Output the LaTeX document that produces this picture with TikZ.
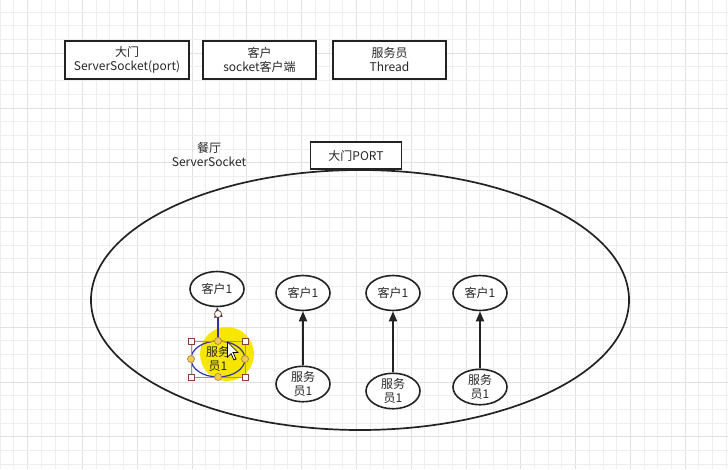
\documentclass[tikz,border=0pt]{standalone}
\usepackage{fontspec}
\setmainfont{Noto Sans CJK SC}
\usetikzlibrary{shapes.geometric,arrows.meta}
\definecolor{gridminor}{RGB}{238,238,238}
\definecolor{gridmajor}{RGB}{225,225,225}
\definecolor{ink}{RGB}{35,35,35}
\definecolor{txt}{RGB}{40,40,40}
\definecolor{hiyellow}{RGB}{246,230,0}
\definecolor{selblue}{RGB}{50,50,170}
\definecolor{handlered}{RGB}{140,60,60}
\definecolor{handleor}{RGB}{245,200,80}
\begin{document}
\begin{tikzpicture}[x=1pt,y=-1pt,
  lbl/.style={font=\fontsize{12}{14}\selectfont, text=txt, align=center, inner sep=0pt},
  legendbox/.style={lbl, draw=ink, line width=1.6pt, minimum height=38pt, fill=white},
  roombox/.style={lbl, draw=ink, line width=1.6pt, minimum width=91pt, minimum height=27pt, fill=white},
  room/.style={draw=ink, line width=1.7pt, ellipse, minimum width=538pt, minimum height=260pt, inner sep=0pt},
  small/.style={lbl, draw=ink, line width=1.6pt, ellipse, minimum width=54pt, minimum height=35pt, fill=white},
  link/.style={draw=ink, line width=1.9pt, -{Triangle[length=10pt,width=8pt]}},
  sqhandle/.style={draw=handlered, fill=white, line width=0.7pt, minimum size=6pt, inner sep=0pt},
  cihandle/.style={draw=handleor!70!black, fill=handleor, circle, line width=0.7pt, minimum size=7pt, inner sep=0pt}
]
\useasboundingbox (0,0) rectangle (728,469);
\fill[white] (0,0) rectangle (728,469);
% grid
\foreach \i in {0,...,53} {
  \pgfmathtruncatemacro{\m}{mod(\i,4)}
  \ifnum\m=2 \draw[gridmajor, line width=0.6pt] (\i*13.7,0) -- (\i*13.7,469);
  \else \draw[gridminor, line width=0.5pt] (\i*13.7,0) -- (\i*13.7,469); \fi
}
\foreach \j in {0,...,34} {
  \pgfmathtruncatemacro{\m}{mod(\j,4)}
  \ifnum\m=3 \draw[gridmajor, line width=0.6pt] (0,11.9+\j*13.7) -- (728,11.9+\j*13.7);
  \else \draw[gridminor, line width=0.5pt] (0,11.9+\j*13.7) -- (728,11.9+\j*13.7); \fi
}
% legend boxes
\node[legendbox, minimum width=124pt] (lg1) at (127,60) {大门\\ServerSocket(port)};
\node[legendbox, minimum width=113pt] (lg2) at (259.5,60) {客户\\socket客户端};
\node[legendbox, minimum width=113pt] (lg3) at (389.5,60) {服务员\\Thread};
% restaurant
\node[lbl] (rlabel) at (209,155) {餐厅\\ServerSocket};
\node[room] (room) at (360,300) {};
\node[roombox] (door) at (356,155.5) {大门PORT};
% highlight of selected servant
\fill[hiyellow] (227,354) circle (27);
% clients
\node[small] (c1) at (217,289) {客户1};
\node[small] (c2) at (303,293) {客户1};
\node[small] (c3) at (393,293) {客户1};
\node[small] (c4) at (480,293) {客户1};
% servants
\node[lbl, draw=selblue, line width=1.2pt, ellipse, minimum width=54pt, minimum height=36pt] (s1) at (218,359) {服务\\员1};
\node[small] (s2) at (303,384) {服务\\员1};
\node[small] (s3) at (393,391) {服务\\员1};
\node[small] (s4) at (480,387) {服务\\员1};
% connectors
\coordinate (h1) at (218,314);
\draw[selblue, line width=1.2pt] (s1.north) -- (h1);
\draw[link] (h1) -- (c1.south);
\node[draw=handlered!80!black, fill=white, circle, minimum size=7pt, inner sep=0pt, line width=0.7pt] at (h1) {};
\draw[link] (s2) -- (c2);
\draw[link] (s3) -- (c3);
\draw[link] (s4) -- (c4);
% selection handles
\draw[handlered!60, line width=0.6pt] (191,341) rectangle (245,377);
\node[sqhandle] at (191,341) {};
\node[sqhandle] at (245,341) {};
\node[sqhandle] at (191,377) {};
\node[sqhandle] at (245,377) {};
\node[cihandle] at (218,341) {};
\node[cihandle] at (218,377) {};
\node[cihandle] at (191,359) {};
\node[cihandle] at (245,359) {};
% cursor
\draw[fill=white, draw=black, line width=0.7pt] (227.5,342) -- (227.5,357) -- (231,353.5) -- (234,360) -- (236,359) -- (233,352.5) -- (238,352.5) -- cycle;
\end{tikzpicture}
\end{document}
